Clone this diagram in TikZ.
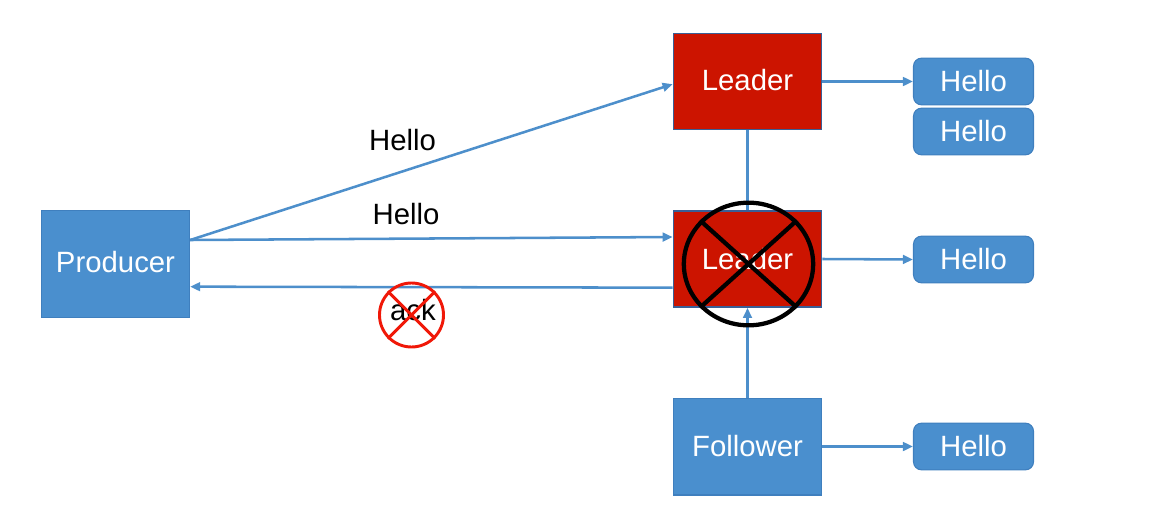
\documentclass[tikz,border=0pt]{standalone}
\usepackage{fontspec}
\setmainfont{Liberation Sans}
\usetikzlibrary{arrows.meta,calc,shapes.geometric}
\definecolor{boxblue}{HTML}{4A8FCE}
\definecolor{edgeblue}{HTML}{3F7FBE}
\definecolor{linkblue}{HTML}{4D8FCB}
\definecolor{leadred}{HTML}{CC1400}
\definecolor{leadedge}{HTML}{3A5F96}
\definecolor{ackred}{HTML}{F01808}
\tikzset{
  px/.style={x=0.75pt,y=-0.75pt},
  base/.style={inner sep=0pt,text=white,font=\fontsize{22}{26}\selectfont,anchor=center},
  bluebox/.style={base,rectangle,draw=edgeblue,fill=boxblue,line width=1pt,minimum width=111pt,minimum height=80pt},
  followbox/.style={bluebox,minimum height=72.5pt},
  redbox/.style={base,rectangle,draw=leadedge,fill=leadred,line width=1.3pt,minimum width=111pt,minimum height=72pt},
  hellobox/.style={base,rectangle,rounded corners=6pt,draw=edgeblue,fill=boxblue,line width=0.8pt,minimum width=90pt,minimum height=35pt},
  link/.style={draw=linkblue,line width=1.9pt,-{Triangle[length=7.5pt,width=6.5pt]}},
  plainlink/.style={draw=linkblue,line width=1.9pt},
  word/.style={inner sep=0pt,text=black,font=\fontsize{22}{26}\selectfont},
  crossring/.style={draw=black,line width=3.2pt,ellipse,inner sep=0pt,minimum width=97pt,minimum height=92pt},
  crossline/.style={draw=black,line width=3.2pt},
  ackring/.style={draw=ackred,line width=2.2pt,circle,inner sep=0pt,minimum size=48pt},
  ackline/.style={draw=ackred,line width=2.2pt}
}
\begin{document}
\begin{tikzpicture}[px]
\useasboundingbox (0,0) rectangle (1164,518);
\node[bluebox,text depth=3pt] (prod) at (115.5,264) {Producer};
\node[redbox,text depth=2.5pt] (lead1) at (747.5,81.5) {Leader};
\node[redbox] (lead2) at (747.5,259) {Leader};
\node[followbox] (foll) at (747.5,446.5) {Follower};
\node[hellobox] (h1) at (973.5,81.5) {Hello\hspace{3pt}};
\node[hellobox] (h2) at (973.5,131.5) {Hello\hspace{3pt}};
\node[hellobox] (h3) at (973.5,259.5) {Hello\hspace{3pt}};
\node[hellobox] (h4) at (973.5,446.5) {Hello\hspace{3pt}};
\node[word] (w1) at (402.5,140.5) {Hello};
\node[word] (w2) at (406,214.5) {Hello};
\node[word] (w3) at (413,310) {ack};
% connectors
\draw[link] ([yshift=18pt]prod.east) -- ([yshift=-2pt]lead1.west);
\draw[link] ([yshift=18pt]prod.east) -- ([yshift=16.5pt]lead2.west);
\draw[link] ([yshift=-21.5pt]lead2.west) -- ([yshift=-17pt]prod.east);
\draw[plainlink] (lead2.north) -- (lead1.south);
\draw[link] (foll.north) -- (lead2.south);
\draw[link] (lead1.east) -- (h1.west);
\draw[link] (lead2.east) -- (h3.west);
\draw[link] (foll.east) -- (h4.west);
% crossed circles
\node[crossring] (ring) at (748.5,264) {};
\draw[crossline] (ring.138) -- (ring.318);
\draw[crossline] (ring.42) -- (ring.222);
\node[ackring] (aring) at (411.5,315) {};
\draw[ackline] (aring.135) -- (aring.315);
\draw[ackline] (aring.45) -- (aring.225);
\end{tikzpicture}
\end{document}
